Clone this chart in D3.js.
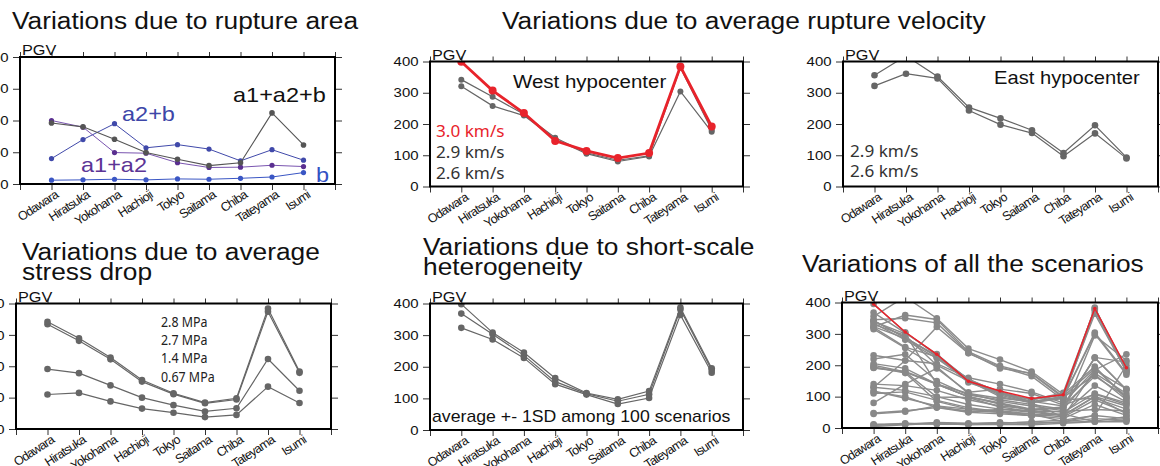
<!doctype html>
<html>

<head>
    <meta charset="utf-8">
    <title>PGV variations</title>
    <style>
        body { margin: 0; background: #fff; }
        text { font-family: "Liberation Sans", Arial, Helvetica, sans-serif; }
    </style>
</head>

<body>
    <script src="https://d3js.org/d3.v7.min.js"></script>
    <script>
        // stations along the x axis and PGV ticks
        var stations = ["Odawara", "Hiratsuka", "Yokohama", "Hachioji", "Tokyo", "Saitama", "Chiba", "Tateyama", "Isumi"];
        var pgvTicks = [0, 100, 200, 300, 400];

        // rupture area
        var areaB = [12, 13, 15, 13, 16, 15, 18, 22, 36];
        var areaA2B = [80, 140, 190, 114, 124, 110, 73, 108, 75];
        var areaA1A2 = [200, 179, 99, 97, 67, 52, 53, 59, 55];
        var areaA1A2B = [192, 180, 141, 99, 78, 58, 67, 224, 123];

        // rupture velocity, west hypocenter
        var westV30 = [399, 307, 235, 146, 114, 91, 107, 384, 192];
        var westV29 = [342, 287, 231, 156, 108, 84, 98, 380, 181];
        var westV26 = [321, 258, 227, 151, 105, 80, 96, 304, 175];

        // rupture velocity, east hypocenter
        var eastV29 = [356, 418, 352, 253, 218, 180, 107, 196, 93];
        var eastV26 = [322, 361, 346, 243, 198, 171, 97, 170, 90];

        // stress drop
        var stress28 = [342, 289, 228, 156, 114, 84, 98, 384, 183];
        var stress27 = [334, 281, 222, 151, 111, 82, 94, 374, 179];
        var stress14 = [191, 178, 139, 100, 76, 56, 66, 223, 122];
        var stress067 = [110, 115, 88, 65, 52, 38, 45, 135, 83];

        // short-scale heterogeneity (average +- 1SD)
        var hetPlus = [398, 308, 245, 164, 117, 97, 123, 387, 195];
        var hetMean = [368, 303, 236, 153, 115, 91, 113, 381, 190];
        var hetMinus = [323, 286, 228, 145, 112, 82, 101, 364, 181];

        // all the scenarios
        var allRed = [395, 306, 235, 149, 118, 94, 106, 381, 192];
        var allScenarios = [
            [395, 305, 232, 150, 112, 90, 105, 378, 188],
            [368, 303, 236, 153, 115, 90, 112, 381, 190],
            [323, 286, 228, 145, 112, 82, 101, 364, 181],
            [356, 418, 350, 253, 218, 180, 107, 196, 93],
            [322, 360, 346, 243, 198, 172, 97, 170, 90],
            [342, 289, 228, 156, 113, 84, 98, 384, 182],
            [334, 281, 222, 151, 111, 82, 94, 373, 179],
            [191, 178, 139, 100, 76, 56, 66, 223, 122],
            [110, 115, 88, 65, 52, 38, 45, 135, 83],
            [342, 287, 231, 156, 108, 84, 98, 304, 175],
            [321, 258, 227, 151, 105, 80, 96, 300, 170],
            [12, 13, 15, 13, 16, 15, 18, 22, 36],
            [80, 140, 190, 114, 124, 110, 73, 108, 75],
            [200, 179, 99, 97, 67, 52, 53, 59, 55],
            [192, 180, 141, 99, 78, 58, 67, 224, 123],
            [232, 215, 205, 160, 140, 115, 80, 185, 125],
            [220, 235, 150, 105, 90, 75, 60, 175, 110],
            [205, 190, 140, 110, 95, 85, 70, 165, 100],
            [140, 135, 120, 90, 70, 60, 50, 110, 80],
            [130, 120, 100, 75, 60, 50, 40, 100, 70],
            [118, 95, 70, 60, 50, 45, 35, 90, 50],
            [48, 55, 65, 55, 50, 40, 30, 75, 40],
            [130, 215, 322, 238, 195, 165, 90, 95, 60],
            [10, 12, 18, 15, 15, 20, 25, 40, 30],
            [8, 15, 12, 12, 18, 15, 20, 30, 25],
            [5, 10, 15, 10, 12, 10, 15, 20, 20],
            [315, 255, 195, 110, 85, 70, 55, 295, 215],
            [330, 295, 200, 150, 100, 80, 35, 185, 235],
            [345, 350, 335, 240, 190, 175, 100, 190, 100],
            [195, 175, 85, 60, 55, 45, 20, 40, 200],
            [115, 100, 65, 50, 45, 40, 45, 20, 25],
            [340, 300, 140, 100, 80, 60, 65, 225, 210],
            [45, 52, 70, 50, 60, 55, 40, 100, 45]
        ];

        var w = 1160;
        var h = 466;

        var svg = d3.select("body")
            .append("svg")
            .attr("width", w)
            .attr("height", h);

        // text with a slight horizontal stretch, like the original
        function label(g, x, y, str, size, sx, color, family) {
            return g.append("text")
                .attr("transform", "translate(" + x + "," + y + ") scale(" + sx + ",1)")
                .style("font-size", size + "px")
                .style("fill", color || "#111")
                .style("font-family", family || null)
                .text(str);
        }

        var clipId = 0;

        function panel(p) {
            var x = d3.scaleLinear().domain([0, 10]).range([p.left, p.right]);
            var y = d3.scaleLinear().domain([0, 400]).range([p.bottom, p.top]);
            var g = svg.append("g");

            // ticks all round the frame
            g.append("g").attr("transform", "translate(0," + p.bottom + ")")
                .call(d3.axisBottom(x).tickValues(d3.range(11)).tickSize(6).tickSizeOuter(0).tickFormat(""));
            g.append("g").attr("transform", "translate(0," + p.top + ")")
                .call(d3.axisTop(x).tickValues(d3.range(11)).tickSize(5).tickSizeOuter(0).tickFormat(""));
            g.append("g").attr("transform", "translate(" + p.right + ",0)")
                .call(d3.axisRight(y).tickValues(pgvTicks).tickSize(7).tickSizeOuter(0).tickFormat(""));
            var left = g.append("g").attr("transform", "translate(" + p.left + ",0)")
                .call(d3.axisLeft(y).tickValues(pgvTicks).tickSize(7).tickSizeOuter(0).tickPadding(3));
            left.selectAll("text")
                .attr("transform", "scale(1.15,1)")
                .style("font-size", "13px")
                .style("fill", "#111");
            g.selectAll(".domain").remove();
            g.selectAll(".tick line").style("stroke", "#333");

            // station names
            var names = g.append("g").attr("transform", "translate(0," + p.bottom + ")")
                .call(d3.axisBottom(x).tickValues(d3.range(1, 10)).tickSize(0)
                    .tickFormat(function (i) { return stations[i - 1]; }));
            names.select(".domain").remove();
            names.selectAll("text")
                .attr("x", 0).attr("y", 0).attr("dy", 0)
                .attr("transform", "translate(7,13) rotate(-33)")
                .style("text-anchor", "end")
                .style("font-size", "12.5px")
                .style("letter-spacing", "-0.8px")
                .style("fill", "#111");

            label(g, p.left + 2, p.top - 2, "PGV", 14.5, 1.12);

            // data, clipped to the frame
            clipId++;
            svg.append("clipPath").attr("id", "clip" + clipId)
                .append("rect")
                .attr("x", p.left).attr("y", p.top)
                .attr("width", p.right - p.left).attr("height", p.bottom - p.top);
            var data = g.append("g").attr("clip-path", "url(#clip" + clipId + ")");

            var line = d3.line()
                .x(function (d, i) { return x(i + 1); })
                .y(function (d) { return y(d); });

            p.series.forEach(function (s) {
                data.append("path")
                    .datum(s.values)
                    .attr("d", line)
                    .style("fill", "none")
                    .style("stroke", s.color)
                    .style("stroke-width", s.width);
                data.selectAll(null)
                    .data(s.values)
                    .enter()
                    .append("circle")
                    .attr("cx", function (d, i) { return x(i + 1); })
                    .attr("cy", function (d) { return y(d); })
                    .attr("r", s.r)
                    .style("fill", s.dot || s.color);
            });

            // frame
            g.append("rect")
                .attr("x", p.left).attr("y", p.top)
                .attr("width", p.right - p.left).attr("height", p.bottom - p.top)
                .style("fill", "none")
                .style("stroke", "#000")
                .style("stroke-width", 2);

            return g;
        }

        var gray = "#666";
        var noto = "'Noto Sans', 'DejaVu Sans', sans-serif";

        // titles
        var titles = svg.append("g");
        label(titles, 12, 28.5, "Variations due to rupture area", 23.5, 1.12);
        label(titles, 502, 28.5, "Variations due to average rupture velocity", 23.5, 1.12);
        label(titles, 22, 260, "Variations due to average", 23.5, 1.12);
        label(titles, 22, 279.5, "stress drop", 23.5, 1.12);
        label(titles, 423, 255, "Variations due to short-scale", 23.5, 1.12);
        label(titles, 423, 274.5, "heterogeneity", 23.5, 1.12);
        label(titles, 802, 271.5, "Variations of all the scenarios", 23.5, 1.12);

        // rupture area
        var p1 = panel({
            left: 20, right: 335, top: 57, bottom: 184,
            series: [
                { values: areaB, color: "#3a56c4", width: 1, r: 2.6 },
                { values: areaA2B, color: "#4049aa", width: 1, r: 2.6 },
                { values: areaA1A2, color: "#7a55b0", width: 1, r: 2.6, dot: "#5a2f90" },
                { values: areaA1A2B, color: "#555", width: 1.1, r: 2.8 }
            ]
        });
        label(p1, 233, 102, "a1+a2+b", 21, 1.12, "#111");
        label(p1, 122, 121, "a2+b", 21, 1.12, "#3d46a8");
        label(p1, 81, 172, "a1+a2", 21, 1.12, "#5c3596");
        label(p1, 316, 182, "b", 21, 1.12, "#3352c4");

        // west hypocenter
        var p2 = panel({
            left: 430, right: 743, top: 61.5, bottom: 186.5,
            series: [
                { values: westV26, color: gray, width: 1.2, r: 3 },
                { values: westV29, color: gray, width: 1.2, r: 3 },
                { values: westV30, color: "#e8232b", width: 2.8, r: 4 }
            ]
        });
        label(p2, 513, 87.7, "West hypocenter", 18.3, 1.12, "#111");
        label(p2, 436, 136.7, "3.0 km/s", 16.5, 1.04, "#e8232b", noto);
        label(p2, 436, 158.3, "2.9 km/s", 16.5, 1.04, "#333", noto);
        label(p2, 436, 179.3, "2.6 km/s", 16.5, 1.04, "#333", noto);

        // east hypocenter
        var p3 = panel({
            left: 843, right: 1158, top: 61.5, bottom: 186.5,
            series: [
                { values: eastV29, color: gray, width: 1.2, r: 3.3 },
                { values: eastV26, color: gray, width: 1.2, r: 3.3 }
            ]
        });
        label(p3, 994, 84.3, "East hypocenter", 18, 1.12, "#111");
        label(p3, 850, 156.7, "2.9 km/s", 16.5, 1.04, "#333", noto);
        label(p3, 850, 177.3, "2.6 km/s", 16.5, 1.04, "#333", noto);

        // stress drop
        var p4 = panel({
            left: 16, right: 331, top: 303.5, bottom: 429,
            series: [
                { values: stress067, color: gray, width: 1.2, r: 3.3 },
                { values: stress14, color: gray, width: 1.2, r: 3.3 },
                { values: stress27, color: gray, width: 1.2, r: 3.3 },
                { values: stress28, color: gray, width: 1.2, r: 3.3 }
            ]
        });
        label(p4, 161, 326.7, "2.8 MPa", 13.5, 0.92, "#222", noto);
        label(p4, 161, 345, "2.7 MPa", 13.5, 0.92, "#222", noto);
        label(p4, 161, 363.3, "1.4 MPa", 13.5, 0.92, "#222", noto);
        label(p4, 161, 381.7, "0.67 MPa", 13.5, 0.92, "#222", noto);

        // heterogeneity
        var p5 = panel({
            left: 430, right: 743, top: 303.5, bottom: 430,
            series: [
                { values: hetMinus, color: gray, width: 1.2, r: 3.3 },
                { values: hetMean, color: gray, width: 1.2, r: 3.3 },
                { values: hetPlus, color: gray, width: 1.2, r: 3.3 }
            ]
        });
        label(p5, 432, 421.7, "average +- 1SD among 100 scenarios", 15.8, 1.12, "#111");

        // all scenarios
        var allSeries = allScenarios.map(function (v) {
            return { values: v, color: "#8c8c8c", width: 1.4, r: 3.3, dot: "#888" };
        });
        allSeries.push({ values: allRed, color: "#e8232b", width: 1.5, r: 1.8 });
        panel({
            left: 842, right: 1158, top: 302.5, bottom: 428,
            series: allSeries
        });
    </script>
</body>

</html>
